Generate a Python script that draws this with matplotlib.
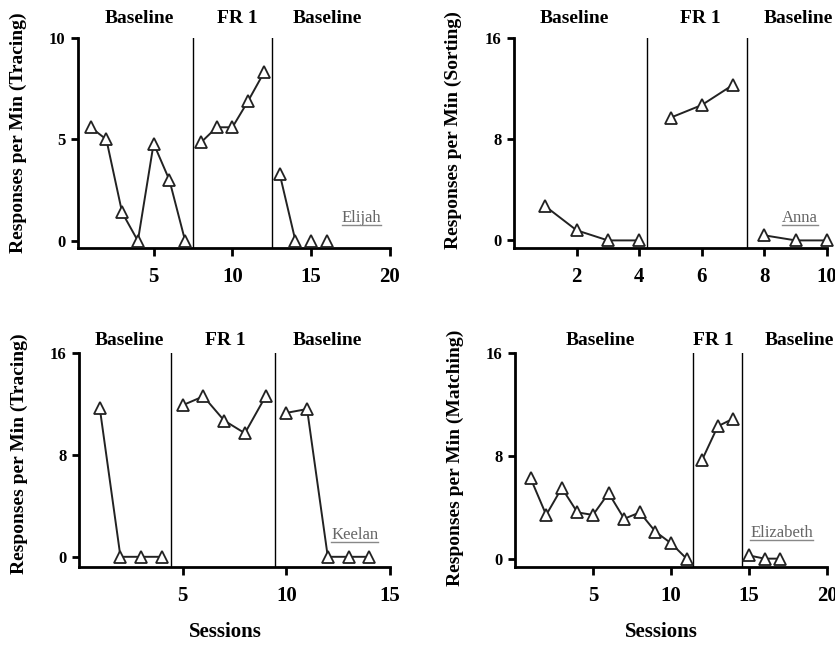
import numpy as np
import matplotlib
matplotlib.use('Agg')
import matplotlib.pyplot as plt
from matplotlib.lines import Line2D
import matplotlib.transforms as mtransforms

plt.rcParams['font.family'] = ['Liberation Serif', 'DejaVu Serif']

# --- Data (responses per minute by session) ---
elijah_sessions = [1, 2, 3, 4, 5, 6, 7, 8, 9, 10, 11, 12, 13, 14, 15, 16]
elijah_values = [5.6, 5.0, 1.4, 0.0, 4.8, 3.0, 0.0, 4.85, 5.6, 5.6, 6.9, 8.3, 3.3, 0.0, 0.0, 0.0]
elijah_phase_lines = [7.5, 12.5]
elijah_unlinked = [15, 16]   # plotted as points only, no connecting line

anna_sessions = [1, 2, 3, 4, 5, 6, 7, 8, 9, 10]
anna_values = [2.7, 0.8, 0.0, 0.0, 9.7, 10.7, 12.3, 0.4, 0.0, 0.0]
anna_phase_lines = [4.25, 7.45]
anna_unlinked = []

keelan_sessions = [1, 2, 3, 4, 5, 6, 7, 8, 9, 10, 11, 12, 13, 14]
keelan_values = [11.7, 0.0, 0.0, 0.0, 11.9, 12.6, 10.7, 9.7, 12.6, 11.3, 11.6, 0.0, 0.0, 0.0]
keelan_phase_lines = [4.45, 9.45]
keelan_unlinked = []

elizabeth_sessions = [1, 2, 3, 4, 5, 6, 7, 8, 9, 10, 11, 12, 13, 14, 15, 16, 17]
elizabeth_values = [6.25, 3.4, 5.5, 3.6, 3.4, 5.1, 3.1, 3.6, 2.1, 1.2, 0.0, 7.7, 10.3, 10.9, 0.25, 0.0, 0.0]
elizabeth_phase_lines = [11.4, 14.55]
elizabeth_unlinked = []

phase_names = ['Baseline', 'FR 1', 'Baseline']

# --- Figure ---
fig = plt.figure(figsize=(8.35, 6.46), dpi=100)
W, H = 835, 646


def px_axes(l, r, top, bottom):
    return fig.add_axes([l / W, 1 - bottom / H, (r - l) / W, (bottom - top) / H])


panels = [
    dict(ax=px_axes(78, 390, 38, 248), x=elijah_sessions, y=elijah_values,
         phases=elijah_phase_lines, unlinked=elijah_unlinked,
         xlim=(0.2, 20), ylim=(-0.35, 10), xticks=[5, 10, 15, 20], yticks=[0, 5, 10],
         ylabel='Responses per Min (Tracing)', name='Elijah', name_xy=(18.2, 1.15),
         phase_x=[4.1, 10.3, 16.0], phase_y=1.095, ylab_y=0.55, xlabel=False),
    dict(ax=px_axes(514, 827, 38, 248), x=anna_sessions, y=anna_values,
         phases=anna_phase_lines, unlinked=anna_unlinked,
         xlim=(0, 10), ylim=(-0.6, 16), xticks=[2, 4, 6, 8, 10], yticks=[0, 8, 16],
         ylabel='Responses per Min (Sorting)', name='Anna', name_xy=(9.14, 1.76),
         phase_x=[1.92, 5.94, 9.07], phase_y=1.095, ylab_y=0.56, xlabel=False),
    dict(ax=px_axes(79, 390, 353, 567), x=keelan_sessions, y=keelan_values,
         phases=keelan_phase_lines, unlinked=keelan_unlinked,
         xlim=(0, 15), ylim=(-0.8, 16), xticks=[5, 10, 15], yticks=[0, 8, 16],
         ylabel='Responses per Min (Tracing)', name='Keelan', name_xy=(13.3, 1.7),
         phase_x=[2.45, 7.07, 12.0], phase_y=1.06, ylab_y=0.53, xlabel=True),
    dict(ax=px_axes(515, 827, 353, 567), x=elizabeth_sessions, y=elizabeth_values,
         phases=elizabeth_phase_lines, unlinked=elizabeth_unlinked,
         xlim=(0, 20), ylim=(-0.65, 16), xticks=[5, 10, 15, 20], yticks=[0, 8, 16],
         ylabel='Responses per Min (Matching)', name='Elizabeth', name_xy=(17.1, 1.98),
         phase_x=[5.47, 12.7, 18.2], phase_y=1.06, ylab_y=0.51, xlabel=True),
]

name_texts = []
for p in panels:
    ax = p['ax']
    x = np.array(p['x'], dtype=float)
    y = np.array(p['y'], dtype=float)

    # split into phases; unlinked points get no line
    bounds = [-np.inf] + p['phases'] + [np.inf]
    for lo, hi in zip(bounds[:-1], bounds[1:]):
        m = (x > lo) & (x < hi) & ~np.isin(x, p['unlinked'])
        ax.plot(x[m], y[m], color='#222222', lw=1.4, zorder=2)
    ax.plot(x, y, ls='none', marker='^', ms=9, mfc='white', mec='#222222', mew=1.3,
            zorder=3, clip_on=False)

    for xp in p['phases']:
        ax.axvline(xp, color='black', lw=1.0, zorder=1)

    trans = mtransforms.blended_transform_factory(ax.transData, ax.transAxes)
    for nm, xp in zip(phase_names, p['phase_x']):
        ax.text(xp, p['phase_y'], nm, transform=trans, ha='center', va='center',
                fontsize=14, fontweight='bold', clip_on=False)

    t = ax.text(p['name_xy'][0], p['name_xy'][1], p['name'], ha='center', va='center',
                fontsize=12, color='#666666')
    name_texts.append(t)

    ax.set_xlim(*p['xlim'])
    ax.set_ylim(*p['ylim'])
    ax.set_xticks(p['xticks'])
    ax.set_yticks(p['yticks'])
    ax.spines['top'].set_visible(False)
    ax.spines['right'].set_visible(False)
    ax.spines['left'].set_linewidth(2.0)
    ax.spines['bottom'].set_linewidth(2.0)
    ax.tick_params(axis='x', direction='out', length=6, width=2, pad=8, labelsize=15)
    ax.tick_params(axis='y', direction='out', length=5, width=2, pad=4, labelsize=12)
    for lab in ax.get_xticklabels() + ax.get_yticklabels():
        lab.set_fontweight('bold')

    ax.set_ylabel(p['ylabel'], fontsize=14, fontweight='bold', va='center')
    ax.yaxis.set_label_coords(-60 / 312, p['ylab_y'])
    if p['xlabel']:
        ax.set_xlabel('Sessions', fontsize=15, fontweight='bold', va='center')
        ax.xaxis.set_label_coords(0.47, -65 / 214)

# underline the participant names
fig.canvas.draw()
renderer = fig.canvas.get_renderer()
for t in name_texts:
    bb = t.get_window_extent(renderer)
    yy = bb.y0 + 1
    line = Line2D([bb.x0 / W, bb.x1 / W], [yy / H, yy / H], transform=fig.transFigure,
                  color='#888888', lw=1.0)
    fig.add_artist(line)

fig.savefig('out.png', dpi=100)
